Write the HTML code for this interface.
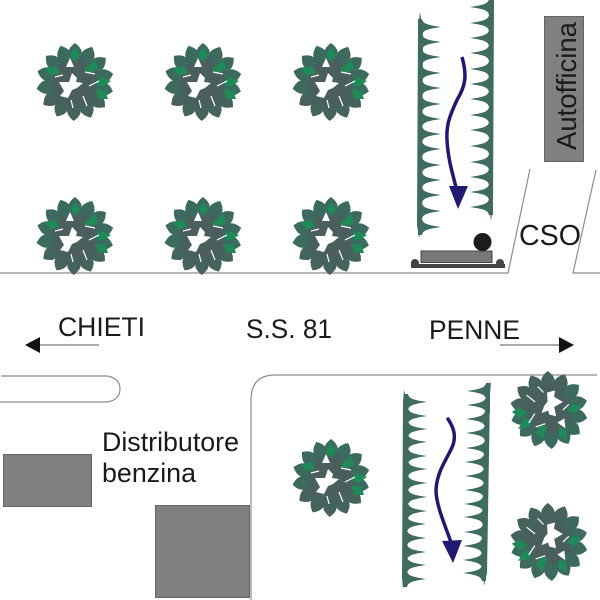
<!DOCTYPE html>
<html><head><meta charset="utf-8"><style>
html,body{margin:0;padding:0;background:#fff;width:600px;height:600px;overflow:hidden}
svg{display:block}
text{font-family:"Liberation Sans",sans-serif;fill:#1a1a1a;font-size:26.500px}
</style></head><body>
<svg width="600" height="600" viewBox="0 0 600 600" xmlns="http://www.w3.org/2000/svg">
<defs>
<path id="lf" d="M0,0C10,-6 8,-13 0,-19C-8,-13 -10,-6 0,0Z"/>
<g id="tree">
<circle r="27" fill="#4a5f5d"/>
<g fill="#3c6a5e">
<use href="#lf" transform="rotate(0) translate(0,-20)"/><use href="#lf" transform="rotate(26) translate(0,-20)"/><use href="#lf" transform="rotate(52) translate(0,-20)"/><use href="#lf" transform="rotate(78) translate(0,-20)"/><use href="#lf" transform="rotate(104) translate(0,-20)"/>
</g>
<g fill="#46625c">
<use href="#lf" transform="rotate(130) translate(0,-20)"/><use href="#lf" transform="rotate(156) translate(0,-20)"/><use href="#lf" transform="rotate(182) translate(0,-20)"/><use href="#lf" transform="rotate(208) translate(0,-20)"/><use href="#lf" transform="rotate(234) translate(0,-20)"/>
</g>
<g fill="#3c6a5e">
<use href="#lf" transform="rotate(260) translate(0,-20)"/><use href="#lf" transform="rotate(286) translate(0,-20)"/><use href="#lf" transform="rotate(312) translate(0,-20)"/><use href="#lf" transform="rotate(338) translate(0,-20)"/>
</g>
<g fill="#1f8a58">
<path d="M0,-34L5,-27L0,-20L-5,-27Z"/>
<path d="M-30,-13L-20,-16L-15,-9L-24,-7Z"/>
<path d="M20,-22L23,-13L13,-8L10,-14Z"/>
<path d="M36,-1L27,5L19,1L26,-5Z"/>
<path d="M33,17L24,17L20,8L30,8Z"/>
</g>
<path fill="#fff" d="M-16,0L-6,0L-3,-9L2,-4L1,0L8,1L2,6L-3,8L-7,16L-15,14L-11,9Z"/>
<path fill="#fff" d="M-5,-24L-1,-15L-9,-15Z"/>
<g stroke="#fff" stroke-width="1.200" fill="none">
<path d="M10,-10L20,-8M14,4L24,-1M-20,-5L-12,-7M-4,18L-2,26M8,14L12,24"/>
</g>
</g>
<path id="th" d="M-1,-8L3,-8C4,-3 9,-2 22,0C9,2 4,3 3,8L-1,8Z"/>
</defs>

<!-- roads -->
<g fill="none" stroke="#8c8c8c" stroke-width="1.200">
<path d="M0,273H508L530,169"/>
<path d="M596,170L573,273H600"/>
<path d="M597,375H275Q251,375 251,400V600"/>
<path d="M1,376H107Q120,378 120,389Q120,400 107,402L0,402"/>
</g>

<!-- trees -->
<use href="#tree" transform="translate(75,82)"/>
<use href="#tree" transform="translate(203,82)"/>
<use href="#tree" transform="translate(331,82)"/>
<use href="#tree" transform="translate(75,236)"/>
<use href="#tree" transform="translate(203,236)"/>
<use href="#tree" transform="translate(331,236)"/>
<use href="#tree" transform="translate(331,478)"/>
<use href="#tree" transform="translate(549,410) rotate(150)"/>
<use href="#tree" transform="translate(549,542) rotate(150)"/>

<!-- hedges -->
<g fill="#3f6b60">
<path d="M420,12L423,30L422,225L419,238L417,225L418,30Z"/>
<use href="#th" x="419" y="27"/><use href="#th" x="419" y="42"/><use href="#th" x="419" y="57"/><use href="#th" x="419" y="73"/><use href="#th" x="419" y="88"/><use href="#th" x="419" y="104"/><use href="#th" x="419" y="119"/><use href="#th" x="419" y="134"/><use href="#th" x="419" y="149"/><use href="#th" x="419" y="165"/><use href="#th" x="419" y="180"/><use href="#th" x="419" y="195"/><use href="#th" x="419" y="211"/><use href="#th" x="419" y="227"/>

<path d="M490,0H494L493,205L491,221L489,205Z"/>
<g transform="translate(492,0) scale(-1,1)">
<use href="#th" y="7"/><use href="#th" y="23"/><use href="#th" y="38"/><use href="#th" y="53"/><use href="#th" y="69"/><use href="#th" y="84"/><use href="#th" y="99"/><use href="#th" y="115"/><use href="#th" y="130"/><use href="#th" y="146"/><use href="#th" y="162"/><use href="#th" y="177"/><use href="#th" y="192"/><use href="#th" y="207"/>
</g>

<path d="M404,390L407,402L406,578L403,589L402,578L403,402Z"/>
<use href="#th" x="405" y="402"/><use href="#th" x="405" y="416"/><use href="#th" x="405" y="429"/><use href="#th" x="405" y="442"/><use href="#th" x="405" y="456"/><use href="#th" x="405" y="469"/><use href="#th" x="405" y="483"/><use href="#th" x="405" y="497"/><use href="#th" x="405" y="511"/><use href="#th" x="404" y="524"/><use href="#th" x="404" y="538"/><use href="#th" x="404" y="552"/><use href="#th" x="404" y="565"/><use href="#th" x="404" y="579"/>

<path d="M491,381L490,395L487,573L484,586L483,573L486,395Z"/>
<use href="#th" transform="translate(489,391) scale(-1,1)"/><use href="#th" transform="translate(489,405) scale(-1,1)"/><use href="#th" transform="translate(488,419) scale(-1,1)"/><use href="#th" transform="translate(488,433) scale(-1,1)"/><use href="#th" transform="translate(488,448) scale(-1,1)"/><use href="#th" transform="translate(487,462) scale(-1,1)"/><use href="#th" transform="translate(487,476) scale(-1,1)"/><use href="#th" transform="translate(487,490) scale(-1,1)"/><use href="#th" transform="translate(486,504) scale(-1,1)"/><use href="#th" transform="translate(486,517) scale(-1,1)"/><use href="#th" transform="translate(486,532) scale(-1,1)"/><use href="#th" transform="translate(485,546) scale(-1,1)"/><use href="#th" transform="translate(485,560) scale(-1,1)"/><use href="#th" transform="translate(485,573) scale(-1,1)"/>
</g>

<!-- blue arrows -->
<path d="M462,57C467,75 466,85 457,100C450,115 446,125 447,140C448,160 453,175 458,195" fill="none" stroke="#1f1a70" stroke-width="3.500"/>
<path d="M449,186H468L458,209Z" fill="#1f1a70"/>
<path d="M448,419C454,428 456,436 453,445C448,458 437,470 436,490C436,505 445,525 452,545" fill="none" stroke="#1f1a70" stroke-width="3.500" stroke-linecap="round"/>
<path d="M442,541L462,540L453,563Z" fill="#1f1a70"/>

<!-- buildings -->
<g fill="#808080" stroke="#666" stroke-width="1">
<rect x="544.500" y="16.500" width="39" height="145"/>
<rect x="3.500" y="454.500" width="88" height="52"/>
<rect x="155.500" y="505.500" width="94" height="92"/>
</g>

<!-- barrier -->
<rect x="421" y="251" width="71" height="11.500" fill="#777" stroke="#444" stroke-width="1"/>
<rect x="411" y="264" width="94" height="4" fill="#444"/>
<circle cx="415" cy="263" r="4" fill="#444"/>
<circle cx="500" cy="263" r="4" fill="#444"/>
<circle cx="482.500" cy="242" r="9" fill="#1c1c1c"/>

<!-- black arrows -->
<path d="M40,345H99M500,345H560" stroke="#555" stroke-width="1" fill="none"/>
<path d="M25,345L40,337V353Z" fill="#111"/>
<path d="M559,337L574,345L559,353Z" fill="#111"/>

<!-- labels -->
<text x="58" y="336" textLength="87" lengthAdjust="spacingAndGlyphs">CHIETI</text>
<text x="246" y="338" textLength="86" lengthAdjust="spacingAndGlyphs">S.S. 81</text>
<text x="429" y="339" textLength="91" lengthAdjust="spacingAndGlyphs">PENNE</text>
<text x="102" y="451" textLength="137" lengthAdjust="spacingAndGlyphs">Distributore</text>
<text x="102" y="482" textLength="94" lengthAdjust="spacingAndGlyphs">benzina</text>
<text x="519" y="245" textLength="62" lengthAdjust="spacingAndGlyphs" style="font-size:28.500px">CSO</text>
<text transform="translate(576,150) rotate(-90)" textLength="128" lengthAdjust="spacingAndGlyphs" style="font-size:27.500px">Autofficina</text>
</svg>
</body></html>
